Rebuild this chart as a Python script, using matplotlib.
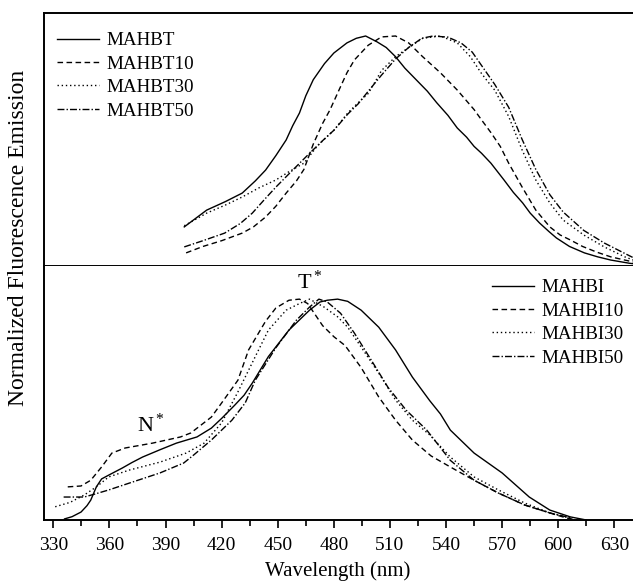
import matplotlib
matplotlib.use("Agg")
import matplotlib.pyplot as plt
from matplotlib.ticker import MultipleLocator

plt.rcParams['font.family'] = ['Liberation Serif', 'DejaVu Serif']
plt.rcParams['mathtext.fontset'] = 'custom'
plt.rcParams['mathtext.rm'] = 'Liberation Serif'
plt.rcParams['mathtext.it'] = 'Liberation Serif:italic'

# ---------------- top panel (MAHBT series) ----------------
mahbt_x = [400, 412, 422, 431, 438, 443.5, 449, 454.5, 458, 461.6, 465, 469, 475, 480, 487, 492, 497,
           503, 508, 513, 518, 524, 530, 535, 541, 546, 551, 555, 559, 564, 571, 576, 581, 585, 590,
           595, 599, 606, 614, 621, 628, 638, 647]
mahbt_y = [0.17, 0.243, 0.28, 0.317, 0.37, 0.417, 0.48, 0.548, 0.61, 0.665, 0.74, 0.81, 0.88, 0.926, 0.97, 0.99, 1.0,
           0.975, 0.95, 0.91, 0.86, 0.81, 0.76, 0.71, 0.655, 0.60, 0.56, 0.52, 0.49, 0.447, 0.374, 0.32, 0.274, 0.23, 0.187,
           0.15, 0.122, 0.085, 0.057, 0.04, 0.026, 0.012, 0.003]

mahbt10_x = [401, 410, 420, 431, 437, 443.5, 449, 454.5, 460, 464, 469, 474, 478, 483.6, 487, 491, 498.4, 505.5,
             513, 520, 527.5, 537, 546, 555, 559, 564, 569, 573.5, 580.7, 588, 595.5, 601, 606.5, 613, 620.7,
             628, 635.5, 647]
mahbt10_y = [0.057, 0.085, 0.11, 0.143, 0.17, 0.213, 0.26, 0.317, 0.37, 0.42, 0.53, 0.62, 0.68, 0.78, 0.84, 0.896, 0.96, 0.996,
             1.0, 0.97, 0.91, 0.84, 0.765, 0.68, 0.635, 0.58, 0.52, 0.447, 0.343, 0.243, 0.17, 0.135, 0.113, 0.085, 0.06,
             0.04, 0.026, 0.005]

mahbt30_x = [400, 412, 422, 431, 440, 449, 456, 464, 471, 476, 480, 487.4, 493, 498.4, 502, 505.5, 513, 520, 527.5,
             537, 546, 553, 558.7, 562.5, 566, 573.5, 580.7, 588, 595.5, 602.6, 613.6, 624.6, 635.5, 647]
mahbt30_y = [0.175, 0.23, 0.265, 0.30, 0.34, 0.374, 0.41, 0.447, 0.52, 0.56, 0.59, 0.665, 0.71, 0.75, 0.80, 0.85, 0.91, 0.95, 0.99,
             1.0, 0.97, 0.91, 0.84, 0.80, 0.765, 0.65, 0.504, 0.374, 0.274, 0.20, 0.135, 0.083, 0.04, 0.005]

mahbt50_x = [400, 410, 421.6, 430, 436.4, 443, 449, 458, 467, 474, 480, 487.4, 493, 498.4, 505.5, 513, 520, 527,
             533, 541, 548, 554, 560, 566, 573.5, 580.7, 588, 595.5, 602.6, 613.6, 624.6, 635.5, 647]
mahbt50_y = [0.083, 0.11, 0.143, 0.185, 0.23, 0.29, 0.343, 0.417, 0.49, 0.545, 0.59, 0.66, 0.705, 0.76, 0.83, 0.90, 0.95, 0.99,
             1.0, 0.995, 0.97, 0.93, 0.86, 0.79, 0.69, 0.55, 0.42, 0.31, 0.235, 0.155, 0.10, 0.055, 0.008]

# ---------------- bottom panel (MAHBI series) ----------------
mahbi_x = [336, 340, 344.8, 348, 350, 353, 355.8, 360, 366.8, 372, 377.7, 387, 395.8, 406.8, 414.5, 420, 427, 432,
           436.4, 445, 456, 467, 472.6, 476.5, 482, 487.4, 494.6, 504, 513, 522, 531.3, 537, 542.3, 555, 570,
           584.5, 595.5, 606.5, 615]
mahbi_y = [0.005, 0.015, 0.036, 0.065, 0.09, 0.15, 0.186, 0.205, 0.235, 0.26, 0.285, 0.318, 0.348, 0.376, 0.416, 0.46, 0.52, 0.565,
           0.62, 0.74, 0.86, 0.95, 0.987, 0.995, 1.0, 0.99, 0.95, 0.873, 0.77, 0.647, 0.54, 0.48, 0.407, 0.303, 0.213,
           0.104, 0.045, 0.014, 0.0]

mahbi10_x = [337.7, 344.8, 350, 355.8, 361.3, 368.4, 383, 398, 403.5, 409, 414.5, 420, 428.7, 434.4, 443.5, 449,
             456, 461.6, 466, 470, 474, 480, 486, 494.6, 504, 513, 522, 532, 542.3, 555, 568, 582, 595.5, 604, 610]
mahbi10_y = [0.15, 0.154, 0.18, 0.24, 0.303, 0.326, 0.348, 0.376, 0.394, 0.43, 0.466, 0.53, 0.633, 0.77, 0.90, 0.96,
             0.995, 1.0, 0.98, 0.93, 0.88, 0.83, 0.79, 0.69, 0.557, 0.452, 0.362, 0.29, 0.24, 0.18, 0.122, 0.068, 0.032, 0.01, 0.0]

mahbi30_x = [331, 339, 346.5, 353, 359.6, 370.6, 387, 401, 410.6, 420, 428.7, 438, 445, 454.5, 461.6, 467, 474.8,
             482, 487.4, 494.6, 504, 513, 522, 531.3, 542.3, 555, 568, 582, 595.5, 608]
mahbi30_y = [0.06, 0.08, 0.113, 0.15, 0.195, 0.226, 0.262, 0.303, 0.348, 0.44, 0.58, 0.74, 0.86, 0.95, 0.98, 1.0, 0.964,
             0.92, 0.873, 0.783, 0.665, 0.543, 0.452, 0.385, 0.285, 0.195, 0.136, 0.077, 0.032, 0.005]

mahbi50_x = [335.5, 346.5, 352, 359.6, 370.6, 387, 399.7, 405, 414.5, 425.5, 432.6, 438, 449, 460, 467, 472,
             476.5, 483.6, 491, 500, 509, 518.7, 529.7, 542.3, 555, 568, 582, 595.5, 606.5]
mahbi50_y = [0.104, 0.104, 0.117, 0.136, 0.167, 0.213, 0.258, 0.294, 0.362, 0.452, 0.53, 0.633, 0.78, 0.905, 0.964, 1.0,
             0.987, 0.936, 0.846, 0.724, 0.60, 0.497, 0.407, 0.27, 0.18, 0.122, 0.068, 0.032, 0.01]

top_labels = ["MAHBT", "MAHBT10", "MAHBT30", "MAHBT50"]
bot_labels = ["MAHBI", "MAHBI10", "MAHBI30", "MAHBI50"]
xticks = [330, 360, 390, 420, 450, 480, 510, 540, 570, 600, 630]

styles = ['-', (0, (4, 2.5)), (0, (1, 2)), (0, (5, 1.5, 1, 1.5))]

W, H = 633, 583
fig = plt.figure(figsize=(W / 100, H / 100), dpi=100)
left = 44 / W
right_px = 648
width = (right_px - 44) / W
ax_top = fig.add_axes([left, 1 - 266 / H, width, (266 - 13) / H])
ax_bot = fig.add_axes([left, 1 - 520 / H, width, (520 - 266) / H], sharex=ax_top)

lw = 1.0
for ax, series, labels in [
    (ax_top, [(mahbt_x, mahbt_y), (mahbt10_x, mahbt10_y), (mahbt30_x, mahbt30_y), (mahbt50_x, mahbt50_y)], top_labels),
    (ax_bot, [(mahbi_x, mahbi_y), (mahbi10_x, mahbi10_y), (mahbi30_x, mahbi30_y), (mahbi50_x, mahbi50_y)], bot_labels),
]:
    for (xs, ys), ls, lab in zip(series, styles, labels):
        ax.plot(xs, ys, color='black', linestyle=ls, linewidth=lw, label=lab)
    for s in ax.spines.values():
        s.set_linewidth(1.4)
    ax.spines['right'].set_visible(False)
    ax.set_yticks([])

ax_top.set_xlim(325, 648)
ax_top.set_ylim(0, 1.1)
ax_bot.set_ylim(0, 1.15)
ax_top.tick_params(axis='x', which='both', bottom=False, labelbottom=False)
ax_bot.spines['top'].set_visible(False)
ax_bot.set_xticks(xticks)
ax_bot.xaxis.set_minor_locator(MultipleLocator(15))
ax_bot.tick_params(axis='x', which='major', direction='out', length=6, width=1.2, labelsize=14, pad=6)
ax_bot.tick_params(axis='x', which='minor', direction='out', length=4, width=1.2)

leg_kw = dict(frameon=False, fontsize=13.7, handlelength=2.2, handletextpad=0.4,
              labelspacing=0.32, borderaxespad=0, borderpad=0)
ax_top.legend(loc='upper left', bbox_to_anchor=((57 - 44) / (right_px - 44), 1 - (32 - 13) / 253), **leg_kw)
ax_bot.legend(loc='upper left', bbox_to_anchor=((492 - 44) / (right_px - 44), 1 - (279 - 266) / 254), **leg_kw)

ax_bot.text(467, 1.075, r'T$^*$', fontsize=16, ha='center', va='center')
ax_bot.text(382, 0.43, r'N$^*$', fontsize=16, ha='center', va='center')

fig.text(338 / W, 1 - 571 / H, 'Wavelength (nm)', fontsize=15, ha='center', va='center')
fig.text(19 / W, 1 - 238 / H, 'Normalized Fluorescence Emission', fontsize=17,
         ha='center', va='center', rotation=90)

fig.savefig('out.png', dpi=100)
